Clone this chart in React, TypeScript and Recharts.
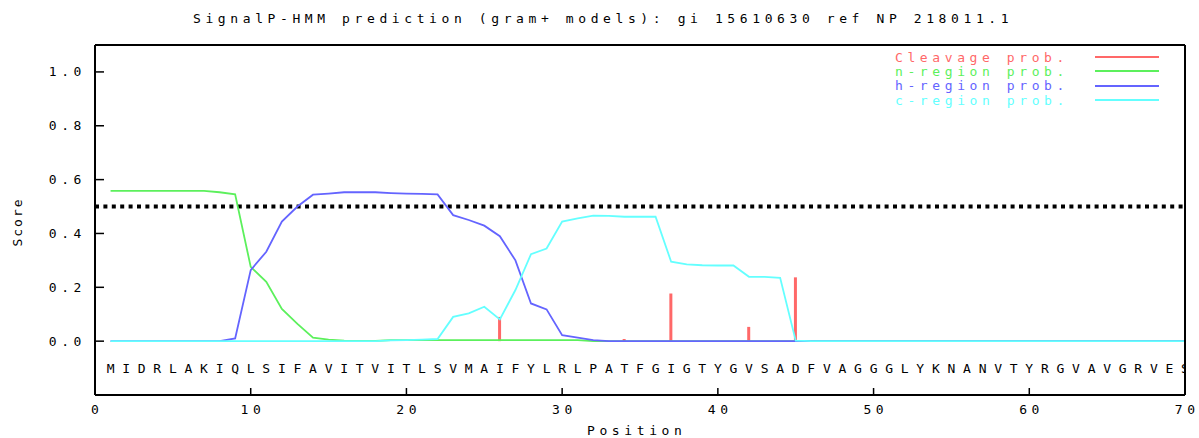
import {
  ComposedChart,
  Line,
  Bar,
  Scatter,
  XAxis,
  YAxis,
  ReferenceLine,
  Legend
} from "recharts";

const FONT = '"DejaVu Sans Mono", "Liberation Mono", monospace';
const FS = 13;
const LS = 4.6; // wide glyph spacing of the old bitmap font

const RED = "#ff6868";
const GREEN = "#5cf05c";
const BLUE = "#6464ff";
const CYAN = "#64ffff";

const residues = "MIDRLAKIQLSIFAVITVITLSVMAIFYLRLPATFGIGTYGVSADFVAGGGLYKNANVTYRGVAVGRVES";

const nRegion = [
  0.558, 0.558, 0.558, 0.558, 0.558, 0.558, 0.558, 0.553, 0.545, 0.276,
  0.22, 0.12, 0.064, 0.013, 0.006, 0.002, 0.001, 0.001, 0.004, 0.004,
  0.004, 0.004, 0.004, 0.004, 0.004, 0.004, 0.004, 0.004, 0.004, 0.004,
  0.004, 0, 0, 0, 0, 0, 0, 0, 0, 0,
  0, 0, 0, 0, 0, 0, 0, 0, 0, 0,
  0, 0, 0, 0, 0, 0, 0, 0, 0, 0,
  0, 0, 0, 0, 0, 0, 0, 0, 0, 0
];

const hRegion = [
  0, 0, 0, 0, 0, 0, 0, 0, 0.01, 0.264,
  0.332, 0.444, 0.5, 0.544, 0.548, 0.553, 0.553, 0.553, 0.55, 0.548,
  0.547, 0.545, 0.468, 0.45, 0.429, 0.39, 0.3, 0.14, 0.118, 0.022,
  0.013, 0.004, 0, 0, 0, 0, 0, 0, 0, 0,
  0, 0, 0, 0, 0, 0, 0, 0, 0, 0,
  0, 0, 0, 0, 0, 0, 0, 0, 0, 0,
  0, 0, 0, 0, 0, 0, 0, 0, 0, 0
];

const cRegion = [
  0, 0, 0, 0, 0, 0, 0, 0, 0, 0,
  0, 0, 0, 0, 0, 0, 0, 0, 0.003, 0.004,
  0.006, 0.008, 0.09, 0.103, 0.128, 0.081, 0.19, 0.323, 0.344, 0.444,
  0.456, 0.466, 0.465, 0.462, 0.462, 0.462, 0.295, 0.285, 0.282, 0.281,
  0.281, 0.239, 0.239, 0.235, 0.002, 0, 0, 0, 0, 0,
  0, 0, 0, 0, 0, 0, 0, 0, 0, 0,
  0, 0, 0, 0, 0, 0, 0, 0, 0, 0
];

// cleavage probability, only non-zero positions
const cleavageSites = [26, 34, 37, 42, 45];
const cleavageProb = [0.09, 0.008, 0.177, 0.053, 0.237];

const xTicks = [0, 10, 20, 30, 40, 50, 60, 70];
const yTicks = [0, 0.2, 0.4, 0.6, 0.8, 1.0];
const CUTOFF = 0.5;
const SEQ_ROW = -0.1;

const legendItems = [
  { label: "Cleavage prob.", color: RED },
  { label: "n-region prob.", color: GREEN },
  { label: "h-region prob.", color: BLUE },
  { label: "c-region prob.", color: CYAN }
];

const rows = residues.split("").map((aa, i) => {
  const pos = i + 1;
  const k = cleavageSites.indexOf(pos);
  return {
    pos,
    aa,
    seq: SEQ_ROW,
    n: nRegion[i],
    h: hRegion[i],
    c: cRegion[i],
    cleavage: k >= 0 ? cleavageProb[k] : 0
  };
});

const textStyle = { fontFamily: FONT, fontSize: FS, letterSpacing: LS, fill: "#000" };

function BottomTick({ x, y, payload }: any) {
  return (
    <text x={x + LS / 2} y={y} dy={8} textAnchor="middle" style={textStyle}>
      {payload.value}
    </text>
  );
}

function LeftTick({ x, y, payload }: any) {
  return (
    <text x={x} y={y} dy={4.5} textAnchor="end" style={textStyle}>
      {Number(payload.value).toFixed(1)}
    </text>
  );
}

function Residue({ cx, cy, payload }: any) {
  return (
    <text x={cx} y={cy} dy={4.5} textAnchor="middle" style={{ ...textStyle, letterSpacing: 0 }}>
      {payload.aa}
    </text>
  );
}

function KeyBox() {
  return (
    <div style={{ fontFamily: FONT, fontSize: FS, letterSpacing: LS }}>
      {legendItems.map((it) => (
        <div key={it.label} style={{ display: "flex", alignItems: "center", height: 14.3 }}>
          <span style={{ color: it.color, width: 200, whiteSpace: "pre" }}>{it.label}</span>
          <span style={{ display: "inline-block", width: 64, height: 2, background: it.color }} />
        </div>
      ))}
    </div>
  );
}

const labelStyle = {
  position: "absolute" as const,
  fontFamily: FONT,
  fontSize: FS,
  letterSpacing: LS,
  whiteSpace: "pre" as const,
  lineHeight: "14px"
};

export default function App() {
  return (
    <div style={{ position: "absolute", left: 0, top: 0, width: 1199, height: 438, background: "#fff" }}>
      <div style={{ ...labelStyle, left: 193, top: 12 }}>
        SignalP-HMM prediction (gram+ models): gi 15610630 ref NP 218011.1
      </div>
      <div
        style={{
          ...labelStyle,
          left: 18,
          top: 222,
          letterSpacing: 2,
          transform: "translate(-50%, -50%) rotate(-90deg)"
        }}
      >
        Score
      </div>
      <div style={{ ...labelStyle, left: 587, top: 424 }}>Position</div>
      <ComposedChart
        width={1199}
        height={438}
        data={rows}
        margin={{ top: 44, right: 13, bottom: 10, left: 35 }}
      >
        <XAxis
          dataKey="pos"
          type="number"
          domain={[0, 70]}
          ticks={xTicks}
          allowDataOverflow
          height={33}
          axisLine={{ stroke: "#000", strokeWidth: 2 }}
          tickLine={{ stroke: "#000", strokeWidth: 1.5 }}
          tickSize={-7}
          tickMargin={18}
          tick={<BottomTick />}
        />
        <XAxis
          xAxisId="top"
          orientation="top"
          type="number"
          domain={[0, 70]}
          ticks={xTicks}
          allowDataOverflow
          height={1}
          axisLine={{ stroke: "#000", strokeWidth: 2 }}
          tickLine={{ stroke: "#000", strokeWidth: 1.5 }}
          tickSize={-7}
          tick={false}
        />
        <YAxis
          type="number"
          domain={[-0.2, 1.1]}
          ticks={yTicks}
          allowDataOverflow
          width={60}
          axisLine={{ stroke: "#000", strokeWidth: 2 }}
          tickLine={{ stroke: "#000", strokeWidth: 1.5 }}
          tickSize={-9}
          tickMargin={18}
          tick={<LeftTick />}
        />
        <YAxis
          yAxisId="right"
          orientation="right"
          type="number"
          domain={[-0.2, 1.1]}
          ticks={yTicks}
          allowDataOverflow
          width={1}
          axisLine={{ stroke: "#000", strokeWidth: 2 }}
          tickLine={{ stroke: "#000", strokeWidth: 1.5 }}
          tickSize={-9}
          tick={false}
        />
        <Bar dataKey="cleavage" fill={RED} barSize={3} isAnimationActive={false} />
        <ReferenceLine y={CUTOFF} stroke="#000" strokeWidth={4} strokeDasharray="4 4.4" />
        <Line type="linear" dataKey="n" stroke={GREEN} strokeWidth={1.8} dot={false} isAnimationActive={false} />
        <Line type="linear" dataKey="h" stroke={BLUE} strokeWidth={1.8} dot={false} isAnimationActive={false} />
        <Line type="linear" dataKey="c" stroke={CYAN} strokeWidth={1.8} dot={false} isAnimationActive={false} />
        <Scatter dataKey="seq" shape={<Residue />} isAnimationActive={false} />
        <Legend
          layout="horizontal"
          verticalAlign="middle"
          align="center"
          content={<KeyBox />}
          wrapperStyle={{ left: 895, top: 50, width: 280 }}
        />
      </ComposedChart>
    </div>
  );
}
